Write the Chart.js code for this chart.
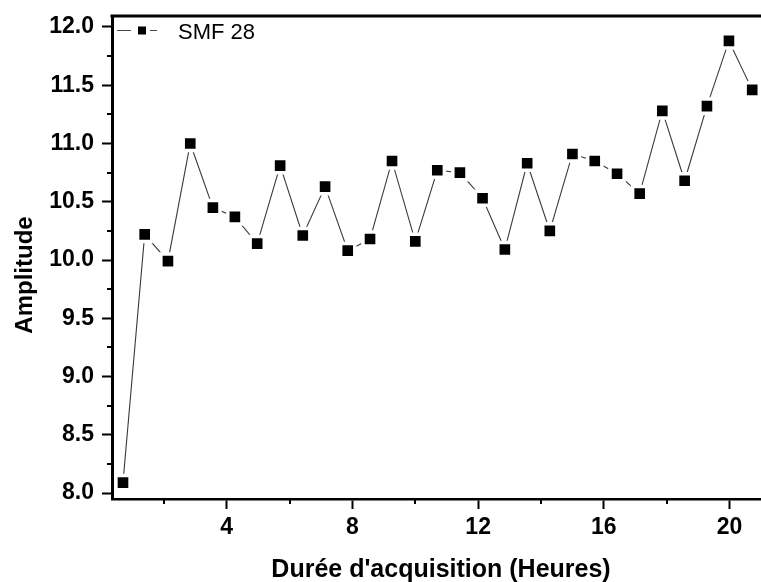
<!DOCTYPE html>
<html><head><meta charset="utf-8">
<script src="https://cdn.jsdelivr.net/npm/chart.js@4/dist/chart.umd.min.js"></script>
<style>html,body{margin:0;padding:0;background:#fff;overflow:hidden}canvas{display:block}</style>
</head><body>
<canvas id="c" width="761" height="582"></canvas>
<script>
// ---- data ----
const seriesName = 'SMF 28';
const hours = [0.70,1.39,2.13,2.84,3.56,4.26,4.97,5.70,6.42,7.13,7.85,8.56,9.26,10.00,10.70,11.42,12.14,12.85,13.56,14.28,15.00,15.71,16.42,17.14,17.86,18.57,19.28,19.98,20.72];
const amplitude = [8.09,10.22,9.99,11.00,10.45,10.37,10.14,10.81,10.21,10.63,10.08,10.18,10.85,10.16,10.77,10.75,10.53,10.09,10.83,10.25,10.91,10.85,10.74,10.57,11.28,10.68,11.32,11.88,11.46];
const xTicks = [4, 8, 12, 16, 20];
const xMinorTicks = [2, 6, 10, 14, 18];
const yTicks = [8.0, 8.5, 9.0, 9.5, 10.0, 10.5, 11.0, 11.5, 12.0];
const yMinorTicks = [8.25, 8.75, 9.25, 9.75, 10.25, 10.75, 11.25, 11.75];
const xTitle = "Durée d'acquisition (Heures)";
const yTitle = 'Amplitude';

const FONT = '"Liberation Sans", Arial, sans-serif';
// plot frame (pixels)
const AREA = { left: 112, top: 16, right: 761, bottom: 499 };

const frameFix = {
  id: 'frameFix',
  afterLayout(chart) {
    const a = chart.chartArea, xs = chart.scales.x, ys = chart.scales.y;
    a.left = AREA.left; a.right = AREA.right; a.top = AREA.top; a.bottom = AREA.bottom;
    a.width = a.right - a.left; a.height = a.bottom - a.top;
    xs.left = a.left; xs.right = a.right; xs.width = a.width;
    xs.top = a.bottom; xs.bottom = chart.height; xs.height = xs.bottom - xs.top;
    ys.left = 0; ys.right = a.left; ys.width = a.left;
    ys.top = a.top; ys.bottom = a.bottom; ys.height = a.height;
    xs.configure(); ys.configure();
  }
};

const decor = {
  id: 'decor',
  afterDraw(chart) {
    const ctx = chart.ctx, a = chart.chartArea;
    const xs = chart.scales.x, ys = chart.scales.y;
    ctx.save();
    // top frame line
    ctx.strokeStyle = '#000';
    ctx.lineWidth = 3;
    ctx.beginPath();
    ctx.moveTo(a.left - 1.5, a.top);
    ctx.lineTo(chart.width, a.top);
    ctx.stroke();
    // minor ticks
    ctx.lineWidth = 2;
    ctx.beginPath();
    xMinorTicks.forEach(v => {
      const px = Math.round(xs.getPixelForValue(v));
      ctx.moveTo(px, a.bottom); ctx.lineTo(px, a.bottom + 5);
    });
    yMinorTicks.forEach(v => {
      const py = Math.round(ys.getPixelForValue(v));
      ctx.moveTo(a.left, py); ctx.lineTo(a.left - 5, py);
    });
    ctx.stroke();
    // legend
    const ly = 30;
    ctx.strokeStyle = '#444';
    ctx.lineWidth = 1;
    ctx.beginPath();
    ctx.moveTo(117, ly + 0.5); ctx.lineTo(131, ly + 0.5);
    ctx.moveTo(150, ly + 0.5); ctx.lineTo(157, ly + 0.5);
    ctx.stroke();
    ctx.fillStyle = '#000';
    ctx.fillRect(138, ly - 3.5, 8, 8);
    ctx.font = '22px ' + FONT;
    ctx.textAlign = 'left';
    ctx.textBaseline = 'alphabetic';
    ctx.fillText(seriesName, 178, 39);
    // axis titles
    ctx.font = 'bold 25px ' + FONT;
    ctx.textAlign = 'center';
    ctx.fillText(xTitle, 441, 577);
    ctx.font = 'bold 24px ' + FONT;
    ctx.translate(32, 275);
    ctx.rotate(-Math.PI / 2);
    ctx.fillText(yTitle, 0, 0);
    ctx.restore();
  }
};

new Chart(document.getElementById('c'), {
  type: 'scatter',
  data: {
    datasets: [{
      label: seriesName,
      data: hours.map((h, i) => ({ x: h, y: amplitude[i] })),
      showLine: true,
      borderColor: '#3a3a3a',
      borderWidth: 1.1,
      pointStyle: 'rect',
      pointRadius: 10,
      pointBackgroundColor: '#000',
      pointBorderColor: '#fff',
      pointBorderWidth: 3.5,
      tension: 0
    }]
  },
  options: {
    responsive: false,
    devicePixelRatio: 1,
    animation: false,
    events: [],
    layout: { padding: { top: 16, left: 0, right: 0, bottom: 0 } },
    plugins: { legend: { display: false }, tooltip: { enabled: false } },
    scales: {
      x: {
        type: 'linear',
        min: 0.35,
        max: 21.0,
        afterBuildTicks: s => { s.ticks = xTicks.map(v => ({ value: v })); },
        afterFit: s => { s.height = 83; s.paddingLeft = 0; s.paddingRight = 0; },
        ticks: {
          color: '#000',
          padding: 5,
          font: { family: FONT, size: 23, weight: 'bold' },
          callback: v => String(v),
          maxRotation: 0,
          autoSkip: false
        },
        grid: { drawOnChartArea: false, drawTicks: true, tickLength: 10, tickWidth: 2, tickColor: '#000' },
        border: { display: true, color: '#000', width: 2.5 },
        title: { display: false }
      },
      y: {
        type: 'linear',
        min: 7.949,
        max: 12.094,
        afterBuildTicks: s => { s.ticks = yTicks.map(v => ({ value: v })); },
        afterFit: s => { s.width = 112; s.paddingTop = 0; s.paddingBottom = 0; },
        ticks: {
          color: '#000',
          padding: 8,
          font: { family: FONT, size: 23, weight: 'bold' },
          callback: v => Number(v).toFixed(1),
          autoSkip: false
        },
        grid: { drawOnChartArea: false, drawTicks: true, tickLength: 10, tickWidth: 2, tickColor: '#000' },
        border: { display: true, color: '#000', width: 3 },
        title: { display: false }
      }
    }
  },
  plugins: [frameFix, decor]
});
</script>
</body></html>
